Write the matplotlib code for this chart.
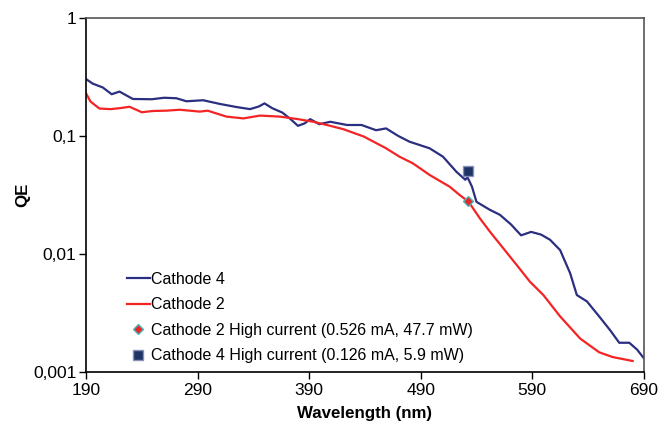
import matplotlib.pyplot as plt
from matplotlib.ticker import FixedLocator, NullLocator

plt.rcParams['font.family'] = ['Liberation Sans', 'DejaVu Sans']

# Cathode 4 spectral QE
wl_c4 = [190, 196, 205, 213, 220, 232, 249, 260, 271, 280, 295, 310, 325, 337,
         345, 350, 357, 366, 373, 380, 386, 391, 399, 409, 424, 437, 450, 459,
         470, 480, 498, 510, 522, 530, 532, 536, 540, 552, 561, 571, 580, 589,
         598, 606, 615, 624, 630, 639, 650, 660, 668, 677, 684, 690]
qe_c4 = [0.304, 0.278, 0.258, 0.226, 0.238, 0.206, 0.205, 0.211, 0.209, 0.197,
         0.201, 0.187, 0.176, 0.169, 0.178, 0.189, 0.172, 0.158, 0.140, 0.122,
         0.128, 0.139, 0.126, 0.132, 0.124, 0.124, 0.112, 0.116, 0.100, 0.0895,
         0.0787, 0.0668, 0.0498, 0.0426, 0.0447, 0.0372, 0.0277, 0.0237,
         0.0215, 0.0178, 0.0144, 0.0154, 0.0146, 0.0132, 0.0108, 0.00687,
         0.00449, 0.00397, 0.00296, 0.00225, 0.00177, 0.00177, 0.00155, 0.00131]

# Cathode 2 spectral QE
wl_c2 = [190, 194, 202, 212, 220, 229, 240, 250, 262, 274, 292, 299, 316, 331,
         346, 364, 380, 394, 409, 421, 439, 459, 471, 483, 498, 516, 525, 533,
         543, 552, 564, 576, 588, 600, 615, 633, 650, 662, 680]
qe_c2 = [0.230, 0.196, 0.171, 0.169, 0.172, 0.177, 0.159, 0.163, 0.164, 0.167,
         0.161, 0.164, 0.146, 0.141, 0.149, 0.146, 0.139, 0.132, 0.122, 0.114,
         0.0990, 0.0787, 0.0668, 0.0587, 0.0468, 0.0372, 0.0316, 0.0277,
         0.0201, 0.0155, 0.0112, 0.00809, 0.00582, 0.00449, 0.00296, 0.00192,
         0.00147, 0.00134, 0.00124]

# high current points
hc_wl = 532
hc_c2 = 0.0282
hc_c4 = 0.0508

x_ticks = [190, 290, 390, 490, 590, 690]
y_ticks = [0.001, 0.01, 0.1, 1]
y_tick_labels = ['0,001', '0,01', '0,1', '1']

fig = plt.figure(figsize=(6.72, 4.24), dpi=100)
ax = fig.add_axes([0.128, 0.1226, 0.83, 0.8349])

ax.plot(wl_c4, qe_c4, color='#2B2F80', lw=1.6, label='Cathode 4')
ax.plot(wl_c2, qe_c2, color='#F42424', lw=1.6, label='Cathode 2')
ax.plot([hc_wl], [hc_c2], ls='none', marker='D', ms=5, mfc='#E8262B',
        mec='#4DB8B8', mew=1.0, label='Cathode 2 High current (0.526 mA, 47.7 mW)')
ax.plot([hc_wl], [hc_c4], ls='none', marker='s', ms=6.5, mfc='#1E3464',
        mec='#8A8FB8', mew=1.0, label='Cathode 4 High current (0.126 mA, 5.9 mW)')

ax.set_yscale('log')
ax.set_xlim(190, 690)
ax.set_ylim(0.001, 1)
ax.xaxis.set_major_locator(FixedLocator(x_ticks))
ax.yaxis.set_major_locator(FixedLocator(y_ticks))
ax.yaxis.set_minor_locator(NullLocator())
ax.set_yticklabels(y_tick_labels)
ax.tick_params(axis='both', direction='out', length=5, width=1, labelsize=12.5, colors='black')
ax.tick_params(axis='x', pad=3)
ax.tick_params(axis='y', pad=2)

for side in ['left', 'bottom']:
    ax.spines[side].set_color('black')
    ax.spines[side].set_linewidth(1.2)
for side in ['top', 'right']:
    ax.spines[side].set_color('#555555')
    ax.spines[side].set_linewidth(1.2)

ax.set_xlabel('Wavelength (nm)', fontsize=12.2, fontweight='bold', labelpad=6)
ax.set_ylabel('QE', fontsize=12.2, fontweight='bold')
ax.yaxis.set_label_coords(-0.1, 0.5)

ax.legend(loc='lower left', bbox_to_anchor=(0.048, -0.016), frameon=False,
          fontsize=11.5, handlelength=1.4, handletextpad=0.1, labelspacing=0.66)

fig.savefig('out.png', dpi=100)
